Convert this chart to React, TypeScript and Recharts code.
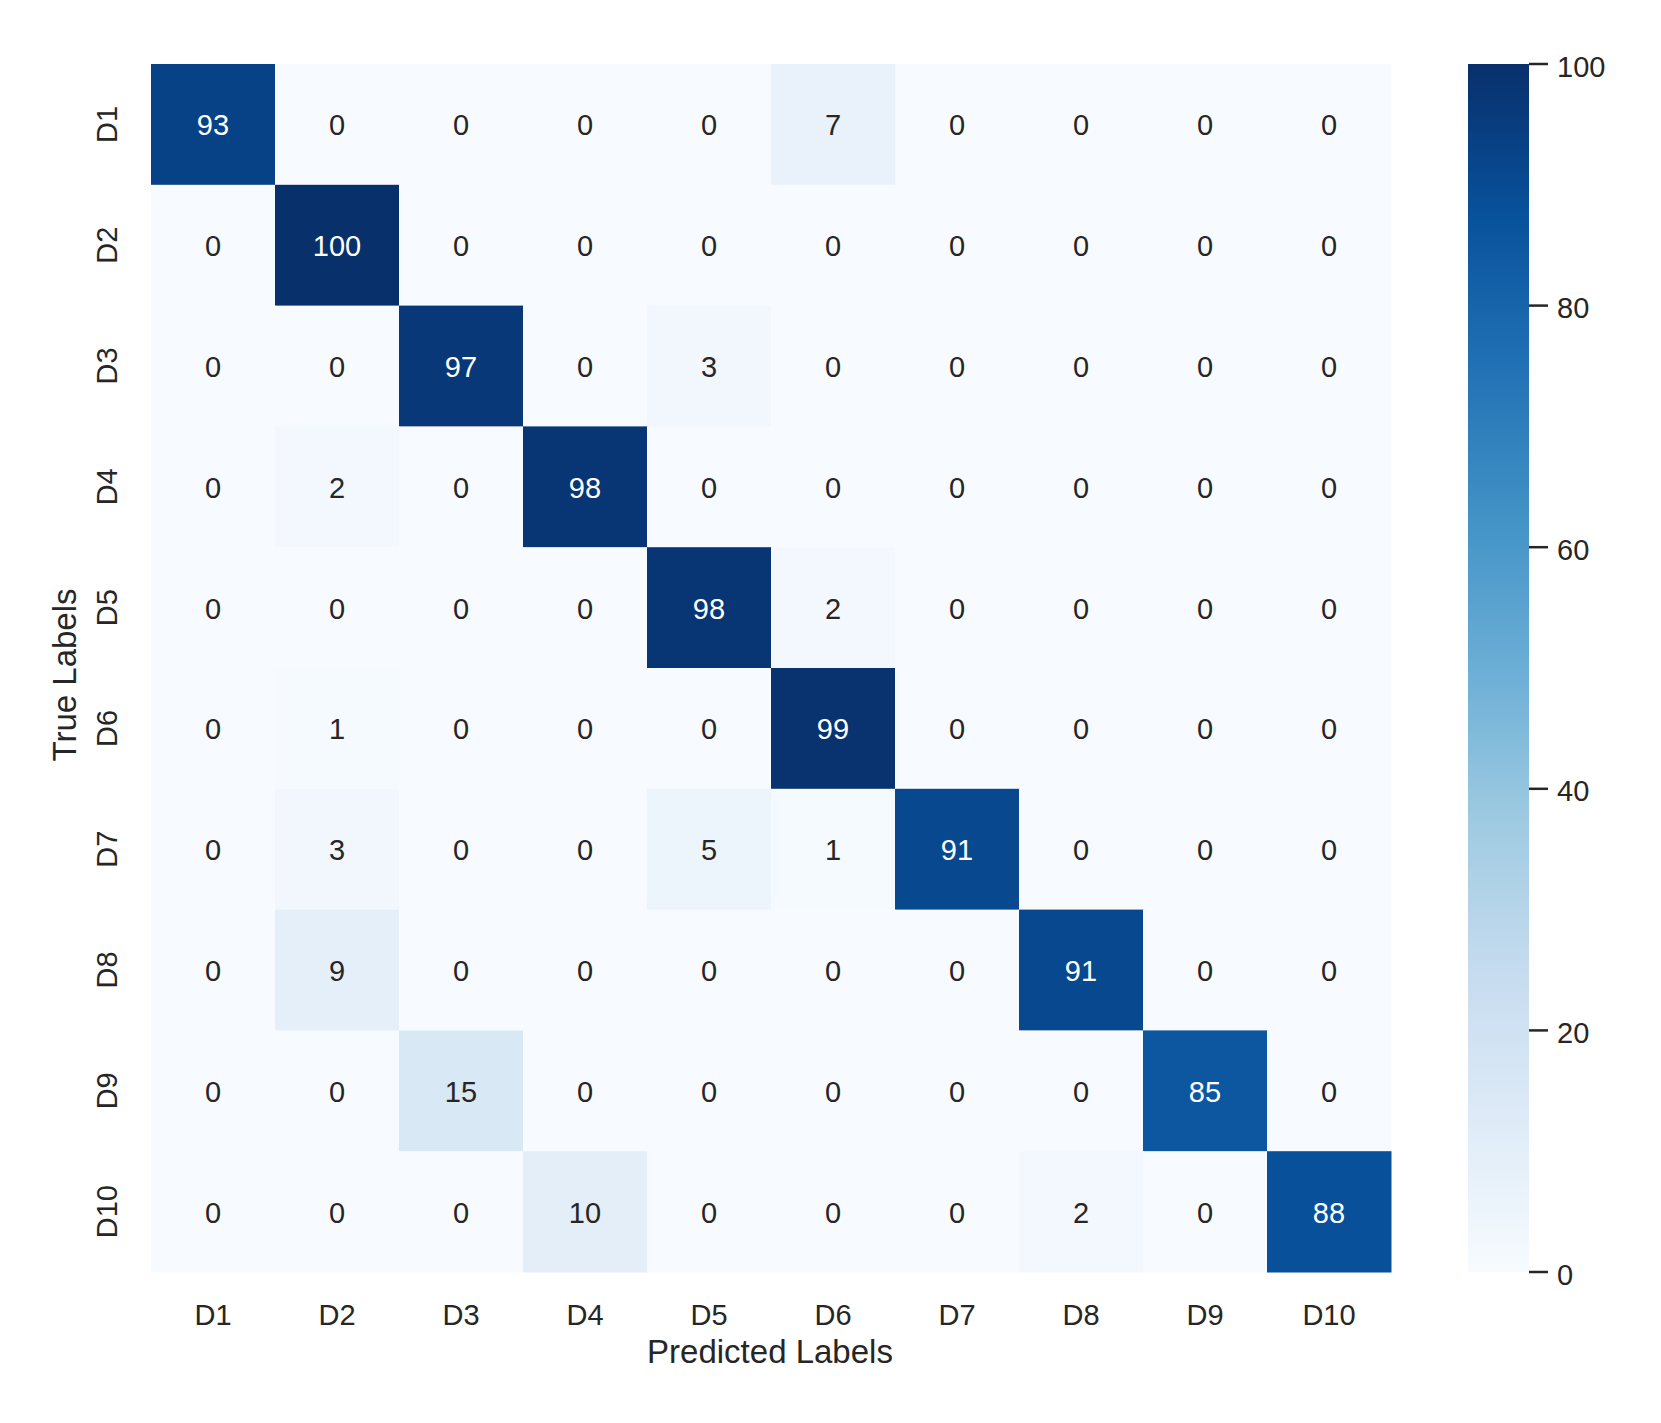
import React from 'react';
import { ScatterChart, Scatter, XAxis, YAxis, BarChart, Bar, Label } from 'recharts';

const LABELS = ['D1', 'D2', 'D3', 'D4', 'D5', 'D6', 'D7', 'D8', 'D9', 'D10'];

// rows = true label, columns = predicted label
const CONFUSION = [
    [93, 0, 0, 0, 0, 7, 0, 0, 0, 0],
    [0, 100, 0, 0, 0, 0, 0, 0, 0, 0],
    [0, 0, 97, 0, 3, 0, 0, 0, 0, 0],
    [0, 2, 0, 98, 0, 0, 0, 0, 0, 0],
    [0, 0, 0, 0, 98, 2, 0, 0, 0, 0],
    [0, 1, 0, 0, 0, 99, 0, 0, 0, 0],
    [0, 3, 0, 0, 5, 1, 91, 0, 0, 0],
    [0, 9, 0, 0, 0, 0, 0, 91, 0, 0],
    [0, 0, 15, 0, 0, 0, 0, 0, 85, 0],
    [0, 0, 0, 10, 0, 0, 0, 2, 0, 88],
];

const CBAR_TICKS = [0, 20, 40, 60, 80, 100];

// matplotlib "Blues"
const BLUES = ['#f7fbff', '#deebf7', '#c6dbef', '#9ecae1', '#6baed6', '#4292c6', '#2171b5', '#08519c', '#08306b'];

const FONT = '"Liberation Sans", Arial, sans-serif';
const INK = '#262626';

const W = 1661;
const H = 1423;
const PLOT_LEFT = 151;
const PLOT_TOP = 64;
const PLOT_W = 1240;
const PLOT_H = 1208;
const CELL_W = PLOT_W / LABELS.length;
const CELL_H = PLOT_H / LABELS.length;

function hexToRgb(h: string) {
    const n = parseInt(h.slice(1), 16);
    return [(n >> 16) & 255, (n >> 8) & 255, n & 255];
}

function blues(t: number): string {
    const x = Math.max(0, Math.min(1, t)) * (BLUES.length - 1);
    const i = Math.min(BLUES.length - 2, Math.floor(x));
    const f = x - i;
    const a = hexToRgb(BLUES[i]);
    const b = hexToRgb(BLUES[i + 1]);
    const c = a.map((v, k) => Math.round(v + (b[k] - v) * f));
    return `rgb(${c[0]},${c[1]},${c[2]})`;
}

// seaborn picks the annotation colour from the cell luminance
function textColor(fill: string): string {
    const rgb = fill.match(/\d+/g)!.map(Number).map((v) => {
        const s = v / 255;
        return s <= 0.03928 ? s / 12.92 : Math.pow((s + 0.055) / 1.055, 2.4);
    });
    const lum = 0.2126 * rgb[0] + 0.7152 * rgb[1] + 0.0722 * rgb[2];
    return lum > 0.408 ? INK : '#ffffff';
}

const cells = CONFUSION.flatMap((row, r) =>
    row.map((v, c) => ({ x: c + 0.5, y: r + 0.5, v })),
);

function HeatCell(props: any) {
    const { cx, cy, payload } = props;
    const fill = blues(payload.v / 100);
    return (
        <g>
            <rect x={cx - CELL_W / 2} y={cy - CELL_H / 2} width={CELL_W + 0.5} height={CELL_H + 0.5} fill={fill} />
            <text
                x={cx}
                y={cy + 11}
                textAnchor="middle"
                fontSize={29}
                fontFamily={FONT}
                fill={textColor(fill)}
            >
                {payload.v}
            </text>
        </g>
    );
}

function XTick({ x, y, payload }: any) {
    return (
        <text x={x} y={y + 53} textAnchor="middle" fontSize={29} fontFamily={FONT} fill={INK}>
            {LABELS[Math.floor(payload.value)]}
        </text>
    );
}

function YTick({ x, y, payload }: any) {
    const ax = x - 34;
    return (
        <text
            x={ax}
            y={y}
            transform={`rotate(-90, ${ax}, ${y})`}
            textAnchor="middle"
            fontSize={29}
            fontFamily={FONT}
            fill={INK}
        >
            {LABELS[Math.floor(payload.value)]}
        </text>
    );
}

function CbarTick({ x, y, payload }: any) {
    return (
        <text x={x} y={y + 12.5} textAnchor="start" fontSize={29} fontFamily={FONT} fill={INK}>
            {payload.value}
        </text>
    );
}

function XTitle({ viewBox }: any) {
    const vb = viewBox || { x: PLOT_LEFT, y: PLOT_TOP + PLOT_H, width: PLOT_W, height: 60 };
    return (
        <text x={vb.x + vb.width / 2 - 1} y={vb.y + 91} textAnchor="middle" fontSize={33} fontFamily={FONT} fill={INK}>
            Predicted Labels
        </text>
    );
}

function YTitle({ viewBox }: any) {
    const vb = viewBox || { x: PLOT_LEFT - 60, y: PLOT_TOP, width: 60, height: PLOT_H };
    const ax = vb.x - 15;
    const ay = vb.y + vb.height / 2 + 7;
    return (
        <text
            x={ax}
            y={ay}
            transform={`rotate(-90, ${ax}, ${ay})`}
            textAnchor="middle"
            fontSize={33}
            fontFamily={FONT}
            fill={INK}
        >
            True Labels
        </text>
    );
}

const tickPos = LABELS.map((_, i) => i + 0.5);

export default function App() {
    return (
        <div style={{ position: 'absolute', left: 0, top: 0, width: W, height: H, background: '#fff' }}>
            <div style={{ position: 'absolute', left: 0, top: 0 }}>
                <ScatterChart
                    width={W}
                    height={H}
                    margin={{ top: PLOT_TOP, right: W - PLOT_LEFT - PLOT_W, bottom: H - PLOT_TOP - PLOT_H - 60, left: PLOT_LEFT - 60 }}
                >
                    <XAxis
                        type="number"
                        dataKey="x"
                        domain={[0, 10]}
                        ticks={tickPos}
                        height={60}
                        axisLine={false}
                        tickLine={false}
                        tickSize={0}
                        tickMargin={0}
                        tick={<XTick />}
                        interval={0}
                    >
                        <Label content={<XTitle />} />
                    </XAxis>
                    <YAxis
                        type="number"
                        dataKey="y"
                        domain={[0, 10]}
                        reversed
                        ticks={tickPos}
                        width={60}
                        axisLine={false}
                        tickLine={false}
                        tickSize={0}
                        tickMargin={0}
                        tick={<YTick />}
                        interval={0}
                    >
                        <Label content={<YTitle />} />
                    </YAxis>
                    <Scatter data={cells} shape={<HeatCell />} isAnimationActive={false} />
                </ScatterChart>
            </div>
            <div style={{ position: 'absolute', left: 1468, top: 0 }}>
                <BarChart
                    width={200}
                    height={H}
                    data={[{ name: 'cbar', v: 100 }]}
                    margin={{ top: PLOT_TOP, right: 0, bottom: H - PLOT_TOP - PLOT_H, left: 0 }}
                    barCategoryGap={0}
                >
                    <defs>
                        <linearGradient id="cbGrad" x1="0" y1="0" x2="0" y2="1">
                            {BLUES.map((c, i) => (
                                <stop key={i} offset={i / (BLUES.length - 1)} stopColor={BLUES[BLUES.length - 1 - i]} />
                            ))}
                        </linearGradient>
                    </defs>
                    <XAxis dataKey="name" type="category" hide />
                    <YAxis
                        orientation="right"
                        type="number"
                        domain={[0, 100]}
                        ticks={CBAR_TICKS}
                        width={139}
                        axisLine={false}
                        tickSize={19}
                        tickMargin={9}
                        tickLine={{ stroke: INK, strokeWidth: 2.5 }}
                        tick={<CbarTick />}
                        interval={0}
                    />
                    <Bar dataKey="v" fill="url(#cbGrad)" isAnimationActive={false} />
                </BarChart>
            </div>
        </div>
    );
}
